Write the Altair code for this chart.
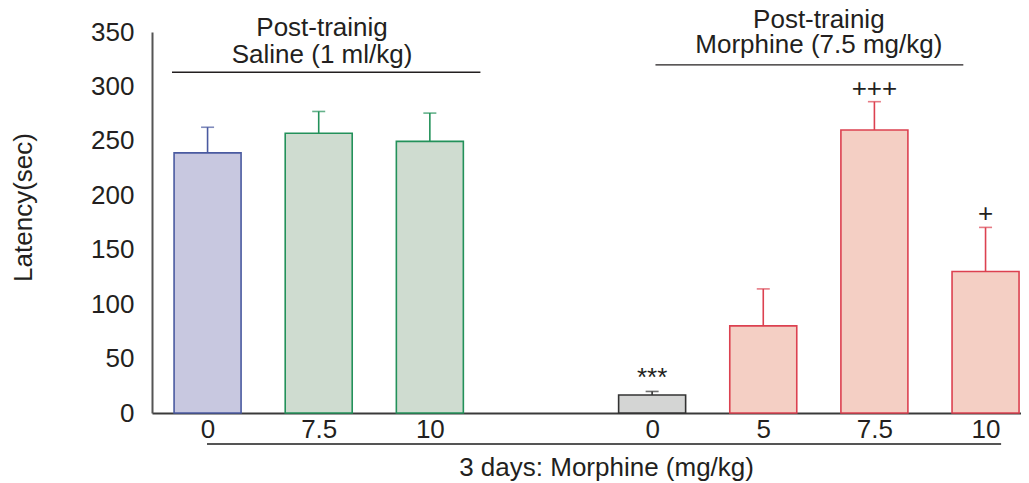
import altair as alt
import pandas as pd

# ---- data ----
dose_labels = ["0", "7.5", "10", "0", "5", "7.5", "10"]
post_training = ["Saline", "Saline", "Saline", "Morphine", "Morphine", "Morphine", "Morphine"]
bar_group = ["saline_0", "saline_drug", "saline_drug", "morph_0", "morph_drug", "morph_drug", "morph_drug"]
latency_mean = [239, 257, 249.5, 16.5, 80, 260, 130]
latency_sem = [23.5, 20, 26, 3.3, 34, 26, 40.5]
significance = ["", "", "", "***", "", "+++", "+"]

group_keys = ["saline_0", "saline_drug", "morph_0", "morph_drug"]
fill_colors = ["#c8c8e0", "#cfdcd0", "#d4d5d4", "#f4cfc4"]
stroke_colors = ["#4a5aa0", "#23915a", "#333333", "#dc4150"]

header_line1 = ["Post-trainig", "Post-trainig"]
header_line2 = ["Saline (1 ml/kg)", "Morphine (7.5 mg/kg)"]
x_title = "3 days: Morphine (mg/kg)"
y_title = "Latency(sec)"

FONT = "Liberation Sans, Arial, Helvetica, sans-serif"
TXT = "#231f20"
FS = 26

# slot index: saline bars then a one-slot gap before the morphine bars
slots = []
for i, p in enumerate(post_training):
    slots.append(i + (1 if p == "Morphine" else 0))

df = pd.DataFrame({
    "slot": slots,
    "dose": dose_labels,
    "group": bar_group,
    "mean": latency_mean,
    "sem": latency_sem,
    "sig": significance,
})
df["top"] = df["mean"] + df["sem"]

# annotation layout (data units)
headers = pd.DataFrame({
    "x": [1.03, 1.03, 5.5, 5.5],
    "y": [346.0, 321.5, 353.7, 330.7],
    "t": [header_line1[0], header_line2[0], header_line1[1], header_line2[1]],
})
brackets = pd.DataFrame({
    "x": [-0.32, 4.03, -0.005],
    "x2": [2.455, 6.80, 7.14],
    "y": [313.0, 319.8, -28.5],
    "kind": ["top", "top", "bottom"],
})
bottom_title = pd.DataFrame({"x": [3.59], "y": [-58.2], "t": [x_title]})

tick_expr = "[" + ",".join(
    "'" + (dose_labels[slots.index(k)] if k in slots else "") + "'" for k in range(8)
) + "][datum.value]"

xscale = alt.Scale(domain=[-0.5, 7.319], nice=False, zero=False, padding=0)
yscale = alt.Scale(domain=[0, 350], nice=False, padding=0)

X = alt.X(
    "slot:Q", scale=xscale,
    axis=alt.Axis(
        values=slots, labelExpr=tick_expr, title=None, grid=False, ticks=False, tickSize=0,
        labelFontSize=FS, labelFont=FONT, labelColor=TXT, labelPadding=3, labelBaseline="top",
        domainColor="#3a3a3a", domainWidth=2, labelFlush=False,
    ),
)
Y = alt.Y(
    "mean:Q", scale=yscale,
    axis=alt.Axis(
        values=[0, 50, 100, 150, 200, 250, 300, 350], title=y_title, grid=False, ticks=False,
        tickSize=0, labelFontSize=FS, labelFont=FONT, labelColor=TXT, labelPadding=18,
        domainColor="#555555", domainWidth=2, labelFlush=False,
        titleFontSize=FS, titleFont=FONT, titleColor=TXT, titleFontWeight="normal",
        titleX=-116, titleY=175, titleAngle=-90, titleBaseline="bottom", titleAlign="center",
    ),
)

fill_scale = alt.Scale(domain=group_keys, range=fill_colors)
stroke_scale = alt.Scale(domain=group_keys, range=stroke_colors)

base = alt.Chart(df)

bars = base.mark_bar(size=67, strokeWidth=1.6).encode(
    x=X,
    y=Y,
    fill=alt.Fill("group:N", scale=fill_scale, legend=None),
    stroke=alt.Stroke("group:N", scale=stroke_scale, legend=None),
)

err_line = base.mark_rule(strokeWidth=1.6).encode(
    x=alt.X("slot:Q", scale=xscale),
    y=alt.Y("mean:Q", scale=yscale),
    y2="top:Q",
    color=alt.Color("group:N", scale=stroke_scale, legend=None),
)
err_cap = base.mark_tick(orient="horizontal", size=13, thickness=1.6).encode(
    x=alt.X("slot:Q", scale=xscale),
    y=alt.Y("top:Q", scale=yscale),
    color=alt.Color("group:N", scale=stroke_scale, legend=None),
)
sig_text = base.mark_text(fontSize=FS, font=FONT, color=TXT, baseline="alphabetic", dy=-5).encode(
    x=alt.X("slot:Q", scale=xscale),
    y=alt.Y("top:Q", scale=yscale),
    text="sig:N",
)

header_text = alt.Chart(headers).mark_text(
    fontSize=FS, font=FONT, color=TXT, baseline="alphabetic", align="center"
).encode(
    x=alt.X("x:Q", scale=xscale),
    y=alt.Y("y:Q", scale=yscale),
    text="t:N",
)

bracket_rules = alt.Chart(brackets).mark_rule().encode(
    x=alt.X("x:Q", scale=xscale),
    x2="x2:Q",
    y=alt.Y("y:Q", scale=yscale),
    color=alt.Color("kind:N", scale=alt.Scale(domain=["top", "bottom"], range=["#231f20", "#555555"]), legend=None),
    strokeWidth=alt.StrokeWidth("kind:N", scale=alt.Scale(domain=["top", "bottom"], range=[1.4, 2.2]), legend=None),
)

bottom_text = alt.Chart(bottom_title).mark_text(
    fontSize=FS, font=FONT, color=TXT, baseline="alphabetic", align="center"
).encode(
    x=alt.X("x:Q", scale=xscale),
    y=alt.Y("y:Q", scale=yscale),
    text="t:N",
)

chart = alt.layer(
    bars, err_line, err_cap, sig_text, header_text, bracket_rules, bottom_text
).resolve_scale(color="independent", fill="independent", stroke="independent").properties(
    width=869,
    height=381,
    autosize=alt.AutoSizeParams(type="none"),
    padding={"left": 144, "top": 24, "right": 0, "bottom": 70},
    background="white",
).configure_view(stroke=None)

chart.save("out.html", embed_options={"renderer": "svg", "actions": False})
